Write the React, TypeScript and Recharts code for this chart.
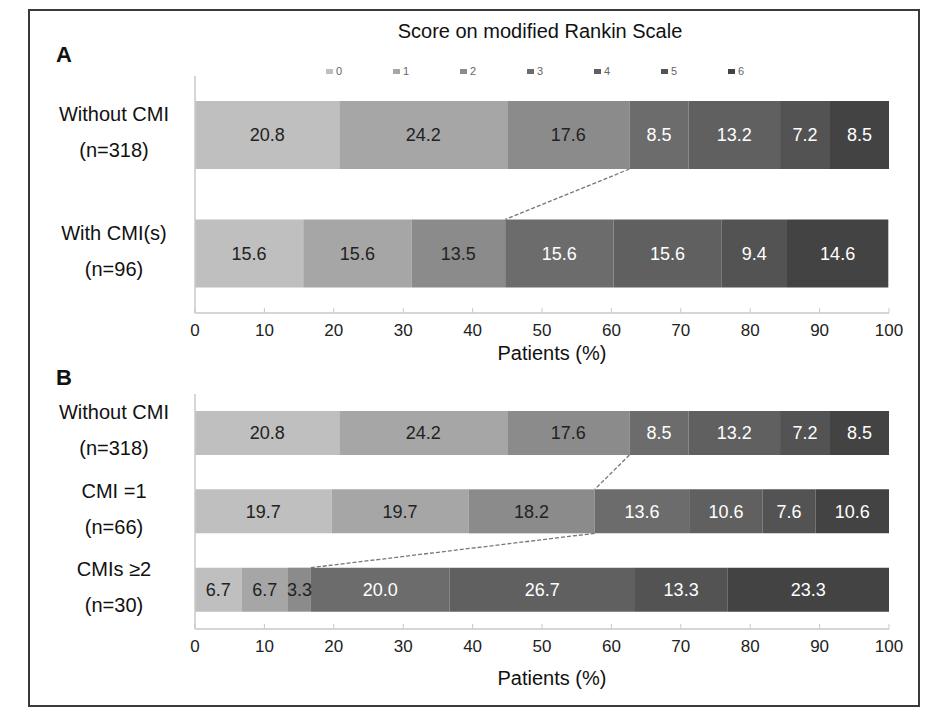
import React from 'react';
import { BarChart, Bar, XAxis, YAxis, LabelList } from 'recharts';

// Score on modified Rankin Scale, percentage of patients per group
const scores = ['0', '1', '2', '3', '4', '5', '6'];
const colors = ['#bfbfbf', '#a6a6a6', '#8b8b8b', '#6c6c6c', '#606060', '#535353', '#434343'];
const labelColors = ['#222', '#222', '#222', '#fff', '#fff', '#fff', '#fff'];
const ticks = [0, 10, 20, 30, 40, 50, 60, 70, 80, 90, 100];

const groupsA = ['Without CMI|(n=318)', 'With CMI(s)|(n=96)'];
const withoutCmi = [20.8, 24.2, 17.6, 8.5, 13.2, 7.2, 8.5];
const withCmis = [15.6, 15.6, 13.5, 15.6, 15.6, 9.4, 14.6];

const groupsB = ['Without CMI|(n=318)', 'CMI =1|(n=66)', 'CMIs \u22652|(n=30)'];
const cmiOne = [19.7, 19.7, 18.2, 13.6, 10.6, 7.6, 10.6];
const cmiTwoPlus = [6.7, 6.7, 3.3, 20.0, 26.7, 13.3, 23.3];

const toRows = (groups: string[], values: number[][]) =>
  groups.map((g, i) => {
    const row: Record<string, string | number> = { group: g };
    scores.forEach((s, j) => {
      row['s' + s] = values[i][j];
    });
    return row;
  });

const dataA = toRows(groupsA, [withoutCmi, withCmis]);
const dataB = toRows(groupsB, [withoutCmi, cmiOne, cmiTwoPlus]);

const FONT = '"Liberation Sans", Arial, sans-serif';

const GroupTick = (props: any) => {
  const { y, payload } = props;
  const [a, b] = String(payload.value).split('|');
  return (
    <g>
      <text x={114} y={y - 21} textAnchor="middle" dominantBaseline="central" fontSize={20} fill="#111" fontFamily={FONT}>
        {a}
      </text>
      <text x={114} y={y + 15} textAnchor="middle" dominantBaseline="central" fontSize={20} fill="#111" fontFamily={FONT}>
        {b}
      </text>
    </g>
  );
};

// bar shape for score 2 that also draws the dashed link between the end of score 2 of consecutive rows
const makeLinkShape = () => {
  const prev: Record<number, { x: number; y: number; w: number; h: number }> = {};
  return (props: any) => {
    const { x, y, width, height, index, fill } = props;
    prev[index] = { x, y, w: width, h: height };
    const p = prev[index - 1];
    return (
      <g>
        <rect x={x} y={y} width={width} height={height} fill={fill} />
        {index > 0 && p && (
          <line
            x1={p.x + p.w}
            y1={p.y + p.h}
            x2={x + width}
            y2={y}
            stroke="#777"
            strokeWidth={1.3}
            strokeDasharray="4 2"
          />
        )}
      </g>
    );
  };
};

interface PanelProps {
  data: Record<string, string | number>[];
  height: number;
  top: number;
  bottom: number;
  barSize: number;
  labelOffset: number;
}

const Panel: React.FC<PanelProps> = ({ data, height, top, bottom, barSize, labelOffset }) => {
  const linkShape = makeLinkShape();
  return (
    <BarChart
      width={948}
      height={height}
      data={data}
      layout="vertical"
      margin={{ top, right: 59, bottom, left: 45 }}
      barCategoryGap={0}
    >
      <XAxis
        type="number"
        domain={[0, 100]}
        ticks={ticks}
        height={60}
        axisLine={{ stroke: '#c8c8c8', strokeWidth: 1.5 }}
        tickLine={{ stroke: '#c8c8c8' }}
        tickSize={-5}
        tickMargin={16}
        tick={{ fontSize: 17, fill: '#222', fontFamily: FONT }}
        label={{
          value: 'Patients (%)',
          position: 'insideBottom',
          offset: labelOffset,
          dx: 10,
          fontSize: 20,
          fill: '#111',
          fontFamily: FONT,
        }}
      />
      <YAxis
        type="category"
        dataKey="group"
        width={150}
        axisLine={{ stroke: '#c8c8c8', strokeWidth: 1.5 }}
        tickLine={false}
        tick={<GroupTick />}
      />
      {scores.map((s, i) => (
        <Bar
          key={s}
          dataKey={'s' + s}
          stackId="mrs"
          fill={colors[i]}
          barSize={barSize}
          isAnimationActive={false}
          shape={i === 2 ? linkShape : undefined}
        >
          <LabelList
            dataKey={'s' + s}
            position="center"
            formatter={(v: any) => Number(v).toFixed(1)}
            fill={labelColors[i]}
            fontSize={18}
            fontFamily={FONT}
          />
        </Bar>
      ))}
    </BarChart>
  );
};

const App: React.FC = () => {
  return (
    <div style={{ position: 'absolute', left: 0, top: 0, width: 948, height: 715, background: '#fff', fontFamily: FONT }}>
      <div
        style={{
          position: 'absolute',
          left: 28,
          top: 9,
          width: 888,
          height: 694,
          border: '2px solid #3a3a3a',
        }}
      />
      <div style={{ position: 'absolute', left: 0, width: 948, top: 20, textAlign: 'center', fontSize: 20, color: '#111', paddingLeft: 132, boxSizing: 'border-box' }}>
        Score on modified Rankin Scale
      </div>
      <div style={{ position: 'absolute', left: 56, top: 42, fontSize: 22, fontWeight: 'bold', color: '#111' }}>A</div>
      <div style={{ position: 'absolute', left: 56, top: 365, fontSize: 22, fontWeight: 'bold', color: '#111' }}>B</div>
      {scores.map((s, i) => (
        <div
          key={s}
          style={{ position: 'absolute', left: 326 + i * 67, top: 65, fontSize: 11, color: '#666', display: 'flex', alignItems: 'center' }}
        >
          <span style={{ display: 'inline-block', width: 7, height: 5, background: colors[i], marginRight: 3 }} />
          {s}
        </div>
      ))}
      <div style={{ position: 'absolute', left: 0, top: 0 }}>
        <Panel data={dataA} height={373} top={76} bottom={0} barSize={68} labelOffset={13} />
      </div>
      <div style={{ position: 'absolute', left: 0, top: 373 }}>
        <Panel data={dataB} height={332} top={21} bottom={16} barSize={44} labelOffset={4} />
      </div>
    </div>
  );
};

export default App;
